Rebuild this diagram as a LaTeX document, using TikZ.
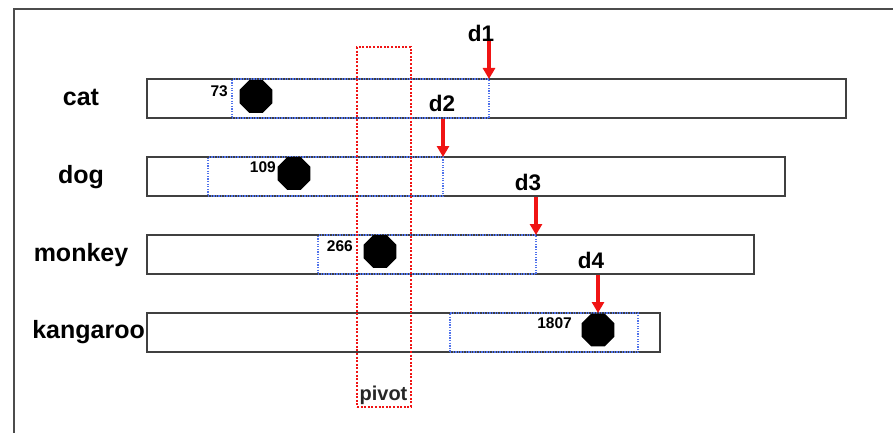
\documentclass[tikz,border=0pt]{standalone}
\usepackage{fontspec}
\setmainfont{Liberation Sans}
\usetikzlibrary{arrows.meta,shapes.geometric}

\definecolor{spanblue}{RGB}{80,115,235}
\definecolor{pivotred}{RGB}{240,20,20}

\tikzset{
  bar/.style={draw=black!75, line width=1.8pt, fill=white, rectangle, anchor=north west,
              inner sep=0pt, outer sep=0pt, minimum height=39pt},
  span/.style={draw=spanblue, dash pattern=on 1.3pt off 1.3pt, line width=1.2pt, rectangle,
               anchor=north west, inner sep=0pt, outer sep=0pt, minimum height=39pt},
  dot/.style={regular polygon, regular polygon sides=8, fill=black, draw=none,
              inner sep=0pt, outer sep=0pt, minimum size=35.5pt},
  rowlabel/.style={font=\fontsize{25}{25}\selectfont\bfseries, anchor=base, inner sep=0pt},
  dlabel/.style={font=\fontsize{22.5}{22.5}\selectfont\bfseries, anchor=base, inner sep=0pt},
  num/.style={font=\fontsize{15.5}{15.5}\selectfont\bfseries, anchor=base east, inner sep=0pt},
  pointer/.style={draw=pivotred, line width=3.5pt, -{Triangle[width=12pt,length=11pt]}},
  pivotbox/.style={draw=pivotred, dash pattern=on 2pt off 1.6pt, line width=2.4pt, rectangle,
                   anchor=north west, inner sep=0pt, outer sep=0pt},
}

\begin{document}
\begin{tikzpicture}[x=1pt, y=-1pt]
  \useasboundingbox (0,0) rectangle (893,433);

  % outer frame (left and top edges only)
  \draw[black!70, line width=2pt] (14,433) -- (14,9) -- (893,9);

  % row labels
  \node[rowlabel] (lcat) at (81,105.5) {cat};
  \node[rowlabel] (ldog) at (81,183.5) {dog};
  \node[rowlabel] (lmonkey) at (81,261.5) {monkey};
  \node[rowlabel, anchor=base east] (lkang) at (145,338) {kangaroo};

  % bars
  \node[bar, minimum width=699pt] (bcat) at (147,79) {};
  \node[bar, minimum width=638pt] (bdog) at (147,157) {};
  \node[bar, minimum width=607pt] (bmonkey) at (147,235) {};
  \node[bar, minimum width=513pt] (bkang) at (147,313) {};

  % dotted ranges inside the bars
  \node[span, minimum width=257pt] (scat) at (232,79) {};
  \node[span, minimum width=235pt] (sdog) at (208,157) {};
  \node[span, minimum width=218pt] (smonkey) at (318,235) {};
  \node[span, minimum width=188pt] (skang) at (450,313) {};

  % markers
  \node[dot] (ocat) at (256,96.5) {};
  \node[dot] (odog) at (294,173.5) {};
  \node[dot] (omonkey) at (380,251.5) {};
  \node[dot] (okang) at (598,330) {};

  % values
  \node[num] (ncat) at (228,96.5) {73};
  \node[num] (ndog) at (276,172) {109};
  \node[num] (nmonkey) at (353,251.5) {266};
  \node[num] (nkang) at (572,328) {1807};

  % pivot column
  \node[pivotbox, minimum width=54pt, minimum height=360pt] (pivot) at (357,47) {};
  \node[font=\fontsize{20}{20}\selectfont\bfseries, anchor=base, inner sep=0pt, text=black!85]
    (pivotlabel) at (383.5,400) {pivot};

  % distance labels
  \node[dlabel] (d1) at (481,41.5) {d1};
  \node[dlabel] (d2) at (442,111.5) {d2};
  \node[dlabel] (d3) at (528,190.5) {d3};
  \node[dlabel] (d4) at (591,268.5) {d4};

  % pointers: vertical, from just below each label down to the end of its range
  \draw[pointer] (scat.north east |- d1.base) -- (scat.north east);
  \draw[pointer] ([yshift=-7.5pt]sdog.north east |- d2.base) -- (sdog.north east);
  \draw[pointer] ([yshift=-6.5pt]smonkey.north east |- d3.base) -- (smonkey.north east);
  \draw[pointer] ([yshift=-6.5pt]okang.north |- d4.base) -- (bkang.north -| okang);
\end{tikzpicture}
\end{document}
